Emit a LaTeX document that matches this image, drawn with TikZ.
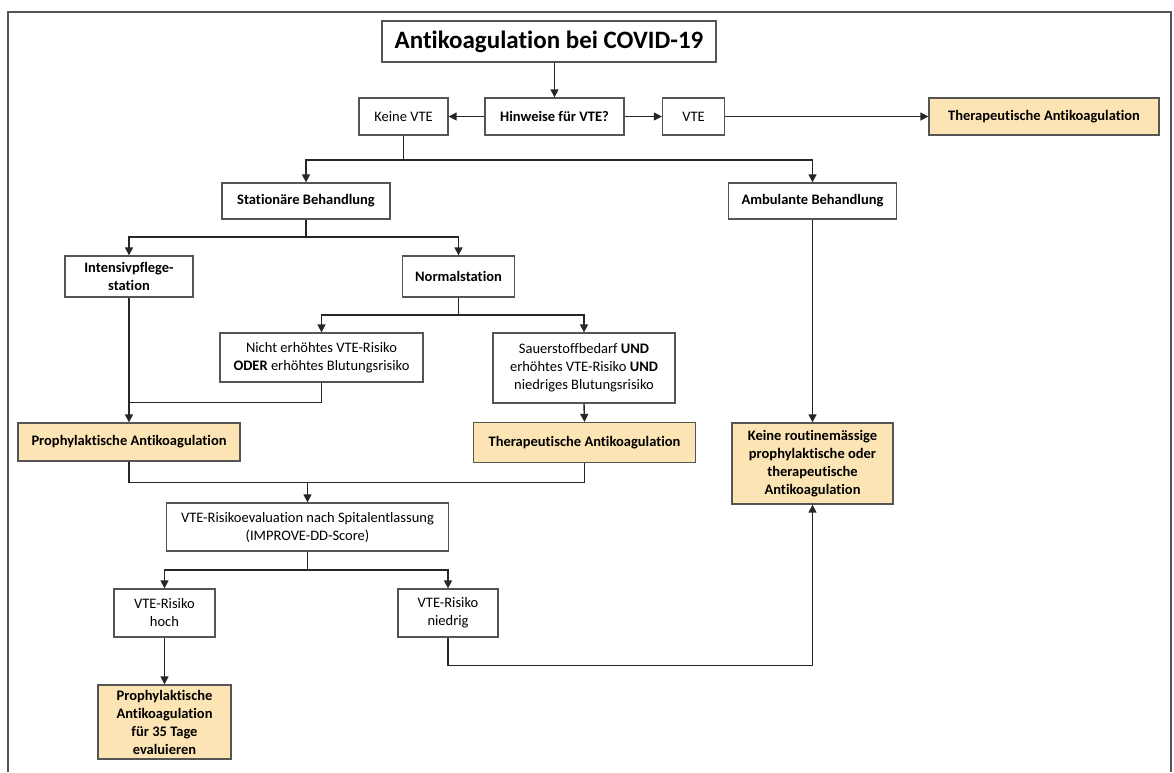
\documentclass[tikz,border=0pt]{standalone}
\usepackage{fontspec}
\setmainfont{Carlito}[Ligatures=NoCommon]
\usepackage[dvipsnames]{xcolor}
\usetikzlibrary{arrows.meta}

\definecolor{boxorange}{RGB}{252,228,180}
\definecolor{boxgray}{RGB}{85,85,85}

\begin{document}
\begin{tikzpicture}[x=1pt, y=-1pt, >={Triangle[width=8pt,length=8pt]},
    box/.style={draw=boxgray, line width=1.3pt, align=center, inner sep=0pt,
        font=\fontsize{14.5}{18}\selectfont},
    hilite/.style={box, fill=boxorange},
    link/.style={line width=1.4pt, black!85}]
    \useasboundingbox (0,0) rectangle (1174,772);
    % outer frame (open at the bottom)
    \draw[boxgray, line width=1.3pt] (8,772) -- (8,12) -- (1171,12) -- (1171,772);

    \node[box, minimum width=334pt, minimum height=41pt, font=\fontsize{25}{28}\selectfont\bfseries] (title) at (549,41.5) {Antikoagulation bei COVID-19};
    \node[box, minimum width=139pt, minimum height=37pt] (hinweis) at (554.5,116.5) {\textbf{Hinweise für VTE?}};
    \node[box, minimum width=89pt, minimum height=37pt] (keinevte) at (403.5,116.5) {Keine VTE};
    \node[box, minimum width=62pt, minimum height=37pt] (vte) at (693.5,116.5) {VTE};
    \node[hilite, minimum width=230pt, minimum height=37pt] (therapA) at (1044,116.5) {\textbf{Therapeutische Antikoagulation}};

    \node[box, minimum width=168pt, minimum height=36pt] (station) at (306,201) {\textbf{Stationäre Behandlung}};
    \node[box, minimum width=168pt, minimum height=36pt] (ambulant) at (812.5,201) {\textbf{Ambulante Behandlung}};

    \node[box, minimum width=128pt, minimum height=41pt] (intensiv) at (129,276.5) {\textbf{Intensivpflege-}\\\textbf{station}};
    \node[box, minimum width=112pt, minimum height=41pt] (normal) at (458.5,276.5) {\textbf{Normalstation}};

    \node[box, minimum width=203pt, minimum height=49pt] (nichtrisk) at (321.5,357.5) {Nicht erhöhtes VTE-Risiko\\\textbf{ODER} erhöhtes Blutungsrisiko};
    \node[box, minimum width=182pt, minimum height=70pt] (sauerstoff) at (584,368) {Sauerstoffbedarf \textbf{UND}\\erhöhtes VTE-Risiko \textbf{UND}\\niedriges Blutungsrisiko};

    \node[hilite, minimum width=222pt, minimum height=38pt] (prophA) at (129,442) {\textbf{Prophylaktische Antikoagulation}};
    \node[hilite, minimum width=222pt, minimum height=40pt] (therapB) at (584.5,442.5) {\textbf{Therapeutische Antikoagulation}};
    \node[hilite, minimum width=161pt, minimum height=81pt] (keineroutine) at (812.5,463.5) {\textbf{Keine routinemässige}\\\textbf{prophylaktische oder}\\\textbf{therapeutische}\\\textbf{Antikoagulation}};

    \node[box, minimum width=282pt, minimum height=48pt] (evaluation) at (307.5,527) {VTE-Risikoevaluation nach Spitalentlassung\\(IMPROVE-DD-Score)};
    \node[box, minimum width=101pt, minimum height=48pt] (hoch) at (164.5,613) {VTE-Risiko\\hoch};
    \node[box, minimum width=100pt, minimum height=48pt] (niedrig) at (448,613) {VTE-Risiko\\niedrig};
    \node[hilite, minimum width=133pt, minimum height=74pt] (prophB) at (164.5,722) {\textbf{Prophylaktische}\\\textbf{Antikoagulation}\\\textbf{für 35 Tage}\\\textbf{evaluieren}};

    % junctions
    \coordinate (j1) at (403.5,160);
    \coordinate (j2) at (306,237);
    \coordinate (j3) at (458.5,315);
    \coordinate (j4) at (129,402.5);
    \coordinate (j5) at (307.5,482.5);
    \coordinate (j6) at (307.5,570);
    \coordinate (j7) at (812.5,665.5);

    \draw[link, ->] (title.south -| hinweis.north) -- (hinweis.north);
    \draw[link, ->] (hinweis.west) -- (keinevte.east);
    \draw[link, ->] (hinweis.east) -- (vte.west);
    \draw[link, ->] (vte.east) -- (therapA.west);

    \draw[link, ->] (keinevte.south) -- (j1) -| (station.north);
    \draw[link, ->] (j1) -| (ambulant.north);
    \draw[link, ->] (station.south) -- (j2) -| (intensiv.north);
    \draw[link, ->] (j2) -| (normal.north);
    \draw[link, ->] (normal.south) -- (j3) -| (nichtrisk.north);
    \draw[link, ->] (j3) -| (sauerstoff.north);

    \draw[link, ->] (intensiv.south) -- (prophA.north);
    \draw[link] (nichtrisk.south) |- (j4);
    \draw[link, ->] (sauerstoff.south) -- (therapB.north);
    \draw[link, ->] (ambulant.south) -- (keineroutine.north);

    \draw[link] (prophA.south) |- (j5);
    \draw[link] (therapB.south) |- (j5);
    \draw[link, ->] (j5) -- (evaluation.north);
    \draw[link, ->] (evaluation.south) -- (j6) -| (hoch.north);
    \draw[link, ->] (j6) -| (niedrig.north);
    \draw[link, ->] (hoch.south) -- (prophB.north);
    \draw[link, ->] (niedrig.south) |- (j7) -- (keineroutine.south);
\end{tikzpicture}
\end{document}
